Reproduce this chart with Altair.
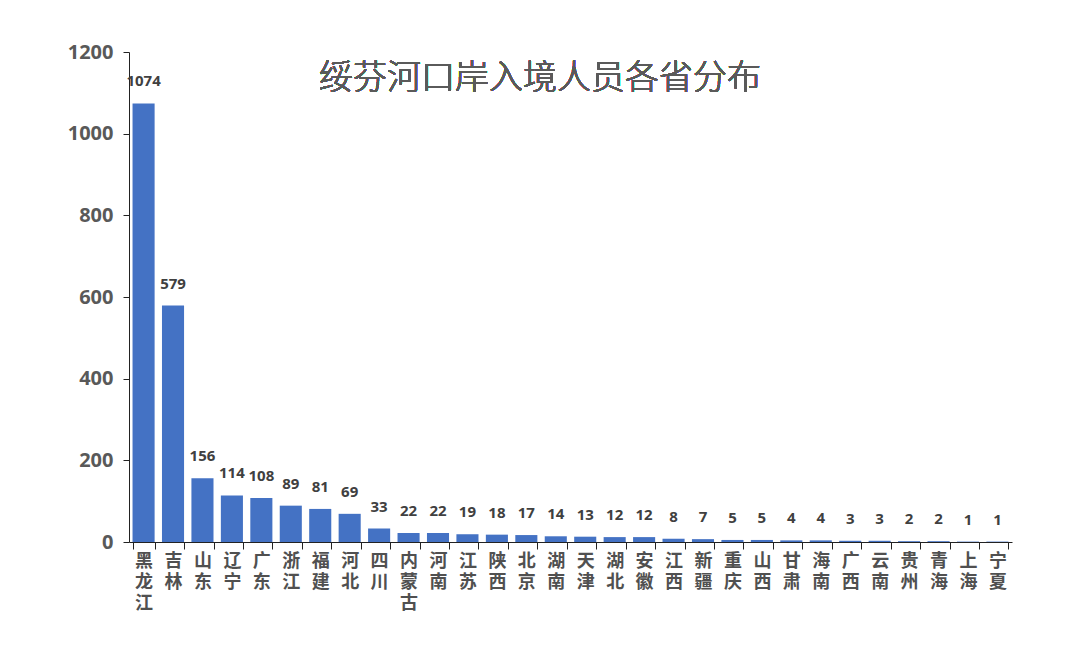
import altair as alt
import pandas as pd

provinces = ["黑龙江", "吉林", "山东", "辽宁", "广东", "浙江", "福建", "河北", "四川", "内蒙古",
             "河南", "江苏", "陕西", "北京", "湖南", "天津", "湖北", "安徽", "江西", "新疆",
             "重庆", "山西", "甘肃", "海南", "广西", "云南", "贵州", "青海", "上海", "宁夏"]
counts = [1074, 579, 156, 114, 108, 89, 81, 69, 33, 22,
          22, 19, 18, 17, 14, 13, 12, 12, 8, 7,
          5, 5, 4, 4, 3, 3, 2, 2, 1, 1]
title_text = "绥芬河口岸入境人员各省分布"

df = pd.DataFrame({"province": provinces, "count": counts})

font = "Noto Sans CJK SC"

x = alt.X("province:N", sort=provinces, title=None,
          scale=alt.Scale(paddingInner=0.25, paddingOuter=0.12),
          axis=alt.Axis(labelAngle=0, labelExpr="split(datum.label, '')",
                        labelFont=font, labelFontSize=18, labelFontWeight="bold",
                        labelColor="#505050", labelLineHeight=21,
                        tickBand="extent", tickSize=7, tickColor="#222222",
                        domainColor="#222222", labelPadding=3))
y = alt.Y("count:Q", title=None,
          scale=alt.Scale(domain=[0, 1200]),
          axis=alt.Axis(values=[0, 200, 400, 600, 800, 1000, 1200], format="d",
                        grid=False, labelFont="Noto Sans", labelFontSize=20,
                        labelFontWeight="bold", labelColor="#595959",
                        tickSize=6, tickColor="#222222", domainColor="#222222",
                        labelPadding=10))

bars = alt.Chart(df).mark_bar(color="#4472C4").encode(x=x, y=y)
labels = alt.Chart(df).mark_text(dy=-22, font="Noto Sans", fontSize=15,
                                 fontWeight="bold", color="#404040").encode(
    x=alt.X("province:N", sort=provinces), y="count:Q", text="count:Q")
title = alt.Chart(df).mark_text(font=font, fontSize=34, fontWeight=300,
                                color="#5a5a5a").encode(
    x=alt.value(411), y=alt.value(27), text=alt.value(title_text))

chart = alt.layer(bars, labels, title).properties(
    width=883, height=490,
    autosize=alt.AutoSizeParams(type="none"),
    padding={"left": 121, "top": 44, "right": 60, "bottom": 90},
    background="white",
).configure_view(stroke=None)

chart.save("out.html", embed_options={"renderer": "svg", "actions": False})
